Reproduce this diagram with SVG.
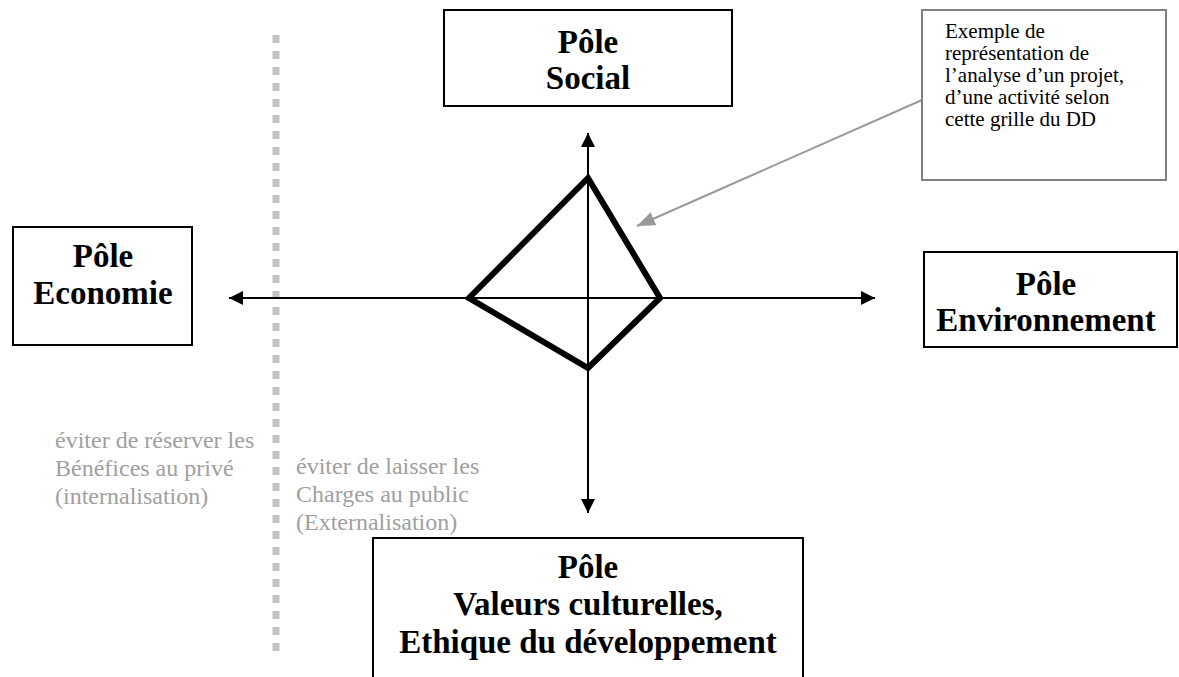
<svg xmlns="http://www.w3.org/2000/svg" width="1179" height="677" viewBox="0 0 1179 677">
<style>
.box{fill:#fff;stroke:#000;stroke-width:2}
.pole{font-family:"Liberation Serif","Times New Roman",serif;font-weight:bold;font-size:33px;fill:#000;text-anchor:middle}
.note{font-family:"Liberation Serif","Times New Roman",serif;font-size:21px;fill:#000}
.gray{font-family:"Liberation Serif","Times New Roman",serif;font-size:24px;fill:#a0a0a0}
.axis{stroke:#000;stroke-width:2;fill:none}
</style>
<defs>
<marker id="ah" markerUnits="userSpaceOnUse" markerWidth="14" markerHeight="14" viewBox="0 0 14 14" refX="14" refY="7" orient="auto">
<path d="M0,0 L14,7 L0,14 z" fill="#000"/>
</marker>
<marker id="ahg" markerUnits="userSpaceOnUse" markerWidth="18" markerHeight="14" viewBox="0 0 18 14" refX="18" refY="7" orient="auto">
<path d="M0,0 L18,7 L0,14 z" fill="#999"/>
</marker>
</defs>
<rect width="1179" height="677" fill="#fff"/>
<line x1="276" y1="35" x2="276" y2="652" stroke="#c4c4c4" stroke-width="7" stroke-dasharray="8 8"/>
<g id="connectors">
<line class="axis" x1="588" y1="298" x2="229" y2="298" marker-end="url(#ah)"/>
<line class="axis" x1="588" y1="298" x2="875" y2="298" marker-end="url(#ah)"/>
<line class="axis" x1="588" y1="298" x2="588" y2="133" marker-end="url(#ah)"/>
<line class="axis" x1="588" y1="298" x2="588" y2="513" marker-end="url(#ah)"/>
<line x1="922" y1="100" x2="637" y2="226" stroke="#999" stroke-width="2" marker-end="url(#ahg)"/>
</g>
<g id="diamond">
<polygon points="588,178 660,298 588,368 469,298" fill="none" stroke="#000" stroke-width="6" stroke-linejoin="miter"/>
</g>
<g id="pole-social">
<rect class="box" x="444" y="10" width="288" height="96"/>
<text class="pole" x="588" y="53">Pôle</text>
<text class="pole" x="588" y="89">Social</text>
</g>
<g id="pole-economie">
<rect class="box" x="13" y="227" width="179" height="118"/>
<text class="pole" x="103" y="267">Pôle</text>
<text class="pole" x="103" y="304">Economie</text>
</g>
<g id="pole-environnement">
<rect class="box" x="924" y="252" width="253" height="95"/>
<text class="pole" x="1046" y="295">Pôle</text>
<text class="pole" x="1046" y="331">Environnement</text>
</g>
<g id="pole-valeurs">
<rect class="box" x="373" y="538" width="430" height="145"/>
<text class="pole" x="588" y="578">Pôle</text>
<text class="pole" x="588" y="615">Valeurs culturelles,</text>
<text class="pole" x="588" y="653">Ethique du développement</text>
</g>
<g id="callout">
<rect x="922" y="10" width="244" height="170" fill="#fff" stroke="#808080" stroke-width="2"/>
<text class="note" x="945" y="38">Exemple de</text>
<text class="note" x="945" y="60">représentation de</text>
<text class="note" x="945" y="82">l’analyse d’un projet,</text>
<text class="note" x="945" y="104">d’une activité selon</text>
<text class="note" x="945" y="126">cette grille du DD</text>
</g>
<g id="note-internalisation">
<text class="gray" x="55" y="448">éviter de réserver les</text>
<text class="gray" x="55" y="476">Bénéfices au privé</text>
<text class="gray" x="55" y="504">(internalisation)</text>
</g>
<g id="note-externalisation">
<text class="gray" x="296" y="474">éviter de laisser les</text>
<text class="gray" x="296" y="502">Charges au public</text>
<text class="gray" x="296" y="530">(Externalisation)</text>
</g>
</svg>
